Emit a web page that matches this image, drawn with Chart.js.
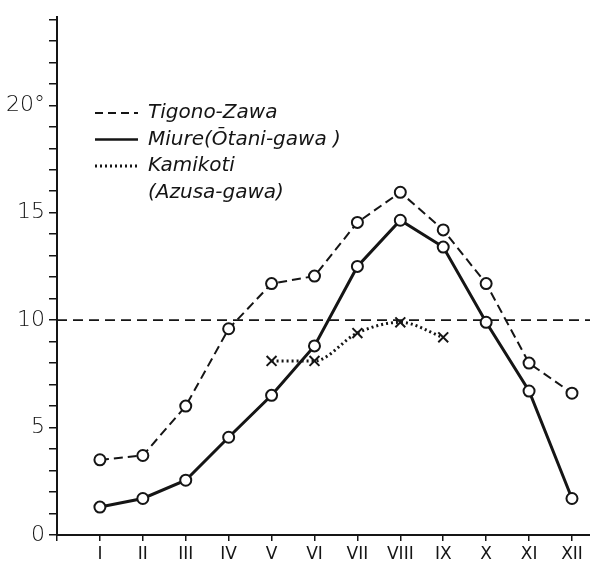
<!DOCTYPE html>
<html>
<head>
<meta charset="utf-8">
<script src="https://cdn.jsdelivr.net/npm/chart.js@4/dist/chart.umd.min.js"></script>
<style>
  body { margin: 0; background: #fff; }
  #wrap { width: 590px; height: 564px; }
</style>
</head>
<body>
<div id="wrap"><canvas id="tempChart" width="590" height="564"></canvas></div>
<script>
// Monthly water temperature (°C)
const months = ['I', 'II', 'III', 'IV', 'V', 'VI', 'VII', 'VIII', 'IX', 'X', 'XI', 'XII'];
const tigonoZawa = [3.5, 3.7, 6.0, 9.6, 11.7, 12.05, 14.55, 15.95, 14.2, 11.7, 8.0, 6.6];
const miure = [1.3, 1.7, 2.55, 4.55, 6.5, 8.8, 12.5, 14.65, 13.4, 9.9, 6.7, 1.7];
const kamikotiMonths = [5, 6, 7, 8, 9];
const kamikoti = [8.1, 8.1, 9.4, 9.9, 9.2];
const REF_TEMP = 10;
const INK = '#151515';

function toPoints(values, xs) {
    return values.map((v, i) => ({ x: xs ? xs[i] : i + 1, y: v }));
}

// legend rows drawn by hand, like the old figure
const legendRows = [
    { text: 'Tigono-Zawa', dash: [8, 5], width: 2 },
    { text: 'Miure(\u014Ctani-gawa )', dash: [], width: 2.5 },
    { text: 'Kamikoti', dash: [2, 3], width: 3 },
    { text: '(Azusa-gawa)', dash: null }
];

const figurePlugin = {
    id: 'figure',
    beforeDatasetsDraw(chart) {
        const { ctx, chartArea, scales } = chart;
        const y = scales.y.getPixelForValue(REF_TEMP);
        ctx.save();
        ctx.strokeStyle = INK;
        ctx.lineWidth = 1.6;
        ctx.setLineDash([10, 6]);
        ctx.beginPath();
        ctx.moveTo(chartArea.left, y);
        ctx.lineTo(chartArea.right, y);
        ctx.stroke();
        ctx.restore();
    },
    afterDraw(chart) {
        const ctx = chart.ctx;
        ctx.save();
        ctx.fillStyle = INK;
        ctx.strokeStyle = INK;
        ctx.font = 'italic 20px "DejaVu Sans"';
        ctx.textBaseline = 'middle';
        legendRows.forEach((row, i) => {
            const y = 113 + i * 26.5;
            if (row.dash) {
                ctx.lineWidth = row.width;
                ctx.setLineDash(row.dash);
                ctx.beginPath();
                ctx.moveTo(95, y);
                ctx.lineTo(138, y);
                ctx.stroke();
            }
            ctx.fillText(row.text, 148, y);
        });
        ctx.restore();
    }
};

const ctx = document.getElementById('tempChart').getContext('2d');
new Chart(ctx, {
    type: 'line',
    data: {
        datasets: [
            {
                label: 'Tigono-Zawa',
                data: toPoints(tigonoZawa),
                borderColor: INK,
                borderWidth: 2,
                borderDash: [9, 5],
                tension: 0,
                pointStyle: 'circle',
                pointRadius: 5.5,
                pointBorderWidth: 2,
                pointBackgroundColor: '#fff',
                pointBorderColor: INK
            },
            {
                label: 'Miure(\u014Ctani-gawa)',
                data: toPoints(miure),
                borderColor: INK,
                borderWidth: 3,
                tension: 0,
                pointStyle: 'circle',
                pointRadius: 5.5,
                pointBorderWidth: 2,
                pointBackgroundColor: '#fff',
                pointBorderColor: INK
            },
            {
                label: 'Kamikoti (Azusa-gawa)',
                data: toPoints(kamikoti, kamikotiMonths),
                borderColor: INK,
                borderWidth: 3,
                borderDash: [2, 3],
                cubicInterpolationMode: 'monotone',
                pointStyle: 'crossRot',
                pointRadius: 7,
                pointBorderWidth: 2,
                pointBorderColor: INK
            }
        ]
    },
    options: {
        responsive: false,
        animation: false,
        clip: false,
        layout: { autoPadding: false, padding: { top: 17, right: 0, left: 0, bottom: 0 } },
        plugins: { legend: { display: false }, tooltip: { enabled: false } },
        scales: {
            x: {
                type: 'linear',
                min: 0,
                max: 12.42,
                afterFit: (s) => { s.height = 29; s.paddingLeft = 0; s.paddingRight = 0; },
                border: { display: true, color: INK, width: 2 },
                grid: { display: true, drawOnChartArea: false, drawTicks: true, tickLength: 6, color: INK, lineWidth: 1.5 },
                ticks: {
                    stepSize: 1,
                    includeBounds: false,
                    autoSkip: false,
                    maxRotation: 0,
                    padding: 3,
                    color: INK,
                    font: { family: '"DejaVu Sans"', size: 17 },
                    callback: (v) => months[v - 1] || ''
                }
            },
            y: {
                min: 0,
                max: 24.1,
                afterFit: (s) => { s.width = 57; },
                border: { display: true, color: INK, width: 2 },
                grid: { display: true, drawOnChartArea: false, drawTicks: true, tickLength: 8, color: INK, lineWidth: 1.5 },
                ticks: {
                    stepSize: 1,
                    includeBounds: false,
                    autoSkip: false,
                    padding: 4,
                    color: '#111',
                    font: { family: '"DejaVu Sans"', size: 22, weight: 300 },
                    callback: (v) => v === 20 ? '20\u00B0' : (v % 5 === 0 ? String(v) : '')
                }
            }
        }
    },
    plugins: [figurePlugin]
});
</script>
</body>
</html>
